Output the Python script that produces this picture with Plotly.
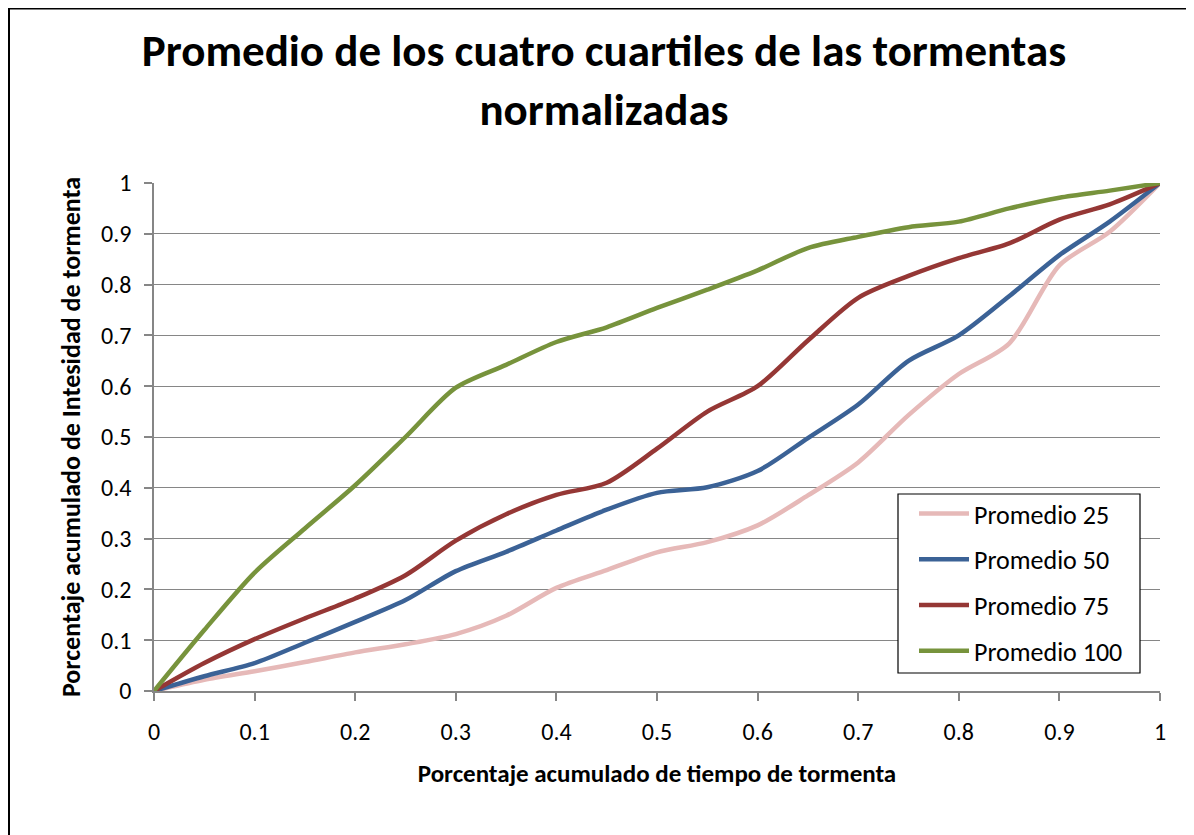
import plotly.graph_objects as go

x_vals = [0, 0.05, 0.1, 0.15, 0.2, 0.25, 0.3, 0.35, 0.4, 0.45, 0.5,
          0.55, 0.6, 0.65, 0.7, 0.75, 0.8, 0.85, 0.9, 0.95, 1.0]
promedio_25 = [0, 0.022, 0.039, 0.057, 0.076, 0.092, 0.112, 0.148, 0.203, 0.238, 0.273,
               0.293, 0.326, 0.385, 0.45, 0.543, 0.624, 0.684, 0.838, 0.904, 1.0]
promedio_50 = [0, 0.029, 0.055, 0.095, 0.136, 0.179, 0.236, 0.274, 0.316, 0.357, 0.39,
               0.401, 0.433, 0.498, 0.564, 0.65, 0.70, 0.777, 0.858, 0.924, 1.0]
promedio_75 = [0, 0.055, 0.102, 0.143, 0.182, 0.228, 0.296, 0.348, 0.386, 0.41, 0.477,
               0.55, 0.6, 0.69, 0.774, 0.817, 0.852, 0.881, 0.928, 0.958, 1.0]
promedio_100 = [0, 0.12, 0.233, 0.32, 0.405, 0.5, 0.597, 0.642, 0.687, 0.716, 0.754,
                0.79, 0.828, 0.872, 0.894, 0.913, 0.924, 0.95, 0.971, 0.985, 1.0]

series_names = ["Promedio 25", "Promedio 50", "Promedio 75", "Promedio 100"]
series_values = [promedio_25, promedio_50, promedio_75, promedio_100]
series_colors = ["#E6B9B8", "#3B6296", "#953735", "#77933C"]

tick_vals = [0, 0.1, 0.2, 0.3, 0.4, 0.5, 0.6, 0.7, 0.8, 0.9, 1]
tick_text = ["0", "0.1", "0.2", "0.3", "0.4", "0.5", "0.6", "0.7", "0.8", "0.9", "1"]

FONT = "Calibri, Carlito, Lato, sans-serif"

fig = go.Figure()
for name, vals, col in zip(series_names, series_values, series_colors):
    fig.add_trace(go.Scatter(
        x=x_vals, y=vals, mode="lines", name=name, legendgroup=name,
        line=dict(color=col, width=4.5, shape="spline", smoothing=0.8),
    ))

OFF = 8  # page body margin offset
W, H = 1194, 835
# desired plot area in screen pixels
SX0, SX1, SY0, SY1 = 154, 1160, 183, 691
L, T = SX0 - OFF, SY0 - OFF
pw, ph = SX1 - SX0, SY1 - SY0
R, B = W - L - pw, H - T - ph

def px_x(s):
    return (s - OFF - L) / pw

def px_y(s):
    return (T + ph - (s - OFF)) / ph

axis_common = dict(
    range=[0, 1], tickvals=tick_vals, ticktext=tick_text,
    gridcolor="#868686", gridwidth=1,
    showline=True, linecolor="#868686", linewidth=1.5,
    ticks="outside", ticklen=8, tickcolor="#868686", tickwidth=1.5,
    tickfont=dict(family=FONT, size=24, color="#000"),
    zeroline=False, fixedrange=True,
)

fig.update_layout(
    width=W, height=H,
    margin=dict(l=L, r=R, t=T, b=B, autoexpand=False),
    paper_bgcolor="white", plot_bgcolor="white",
    title=dict(
        text="Promedio de los cuatro cuartiles de las tormentas<br>normalizadas",
        font=dict(family=FONT, size=45, color="#000", weight="bold"),
        x=(604 - OFF) / W, xanchor="center", y=1 - (66 - OFF) / H, yanchor="middle",
    ),
    xaxis=dict(**axis_common, showgrid=False, ticklabelstandoff=10,
               title=dict(text="<b>Porcentaje acumulado de tiempo de tormenta</b>",
                          font=dict(family=FONT, size=25, color="#000"), standoff=20)),
    yaxis=dict(**axis_common, showgrid=True, ticklabelstandoff=8,
               title=dict(text="<b>Porcentaje acumulado de Intesidad de tormenta</b>",
                          font=dict(family=FONT, size=26, color="#000"), standoff=13)),
    legend=dict(
        x=px_x(914), xanchor="left", y=px_y(490), yanchor="top",
        borderwidth=0, bgcolor="rgba(0,0,0,0)",
        font=dict(family=FONT, size=26, color="#000"),
        traceorder="grouped", tracegroupgap=9, itemwidth=50,
    ),
    showlegend=True,
    shapes=[
        # legend frame
        dict(type="rect", xref="paper", yref="paper", layer="above",
             x0=px_x(898), x1=px_x(1140), y0=px_y(494), y1=px_y(673),
             line=dict(color="#000", width=1.2), fillcolor="white"),
        # outer chart frame (top and left edges visible)
        dict(type="line", xref="paper", yref="paper",
             x0=px_x(7), x1=px_x(W + 20), y0=px_y(OFF), y1=px_y(OFF),
             line=dict(color="#000", width=3)),
        dict(type="line", xref="paper", yref="paper",
             x0=px_x(OFF + 0.5), x1=px_x(OFF + 0.5), y0=px_y(OFF), y1=px_y(H + 20),
             line=dict(color="#000", width=3)),
    ],
)

fig.write_html("out.html")
